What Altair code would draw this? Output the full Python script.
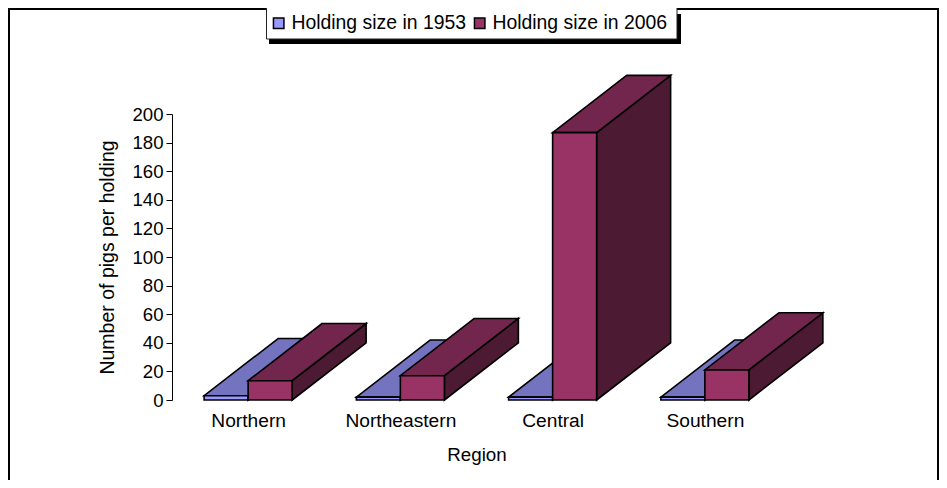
import json
import altair as alt
import pandas as pd

regions = ["Northern", "Northeastern", "Central", "Southern"]
size_1953 = [3, 2, 2, 2]
size_2006 = [13.5, 17, 187, 21]
series_names = ["Holding size in 1953", "Holding size in 2006"]

BAR_W = 0.289   # bar width, in category units
DEPTH_X = 0.486 # 3D depth, in category units
DEPTH_Y = 40    # 3D depth, in value units
FONT = "Liberation Sans"

front_rows, side_rows, top_rows = [], [], []
for s, (name, vals) in enumerate(zip(series_names, [size_1953, size_2006])):
    for i, v in enumerate(vals):
        xl = i - BAR_W + s * BAR_W
        xr = xl + BAR_W
        key = f"{s}-{i}"
        front_rows.append(dict(series=name, s=s, xl=xl, xr=xr, y0=0, v=v))
        side_rows += [
            dict(key=key, s=s, x=xr, lo=0, hi=v),
            dict(key=key, s=s, x=xr + DEPTH_X, lo=DEPTH_Y, hi=v + DEPTH_Y),
        ]
        top_rows += [
            dict(key=key, s=s, y=v, a=xl, b=xr),
            dict(key=key, s=s, y=v + DEPTH_Y, a=xl + DEPTH_X, b=xr + DEPTH_X),
        ]
front = pd.DataFrame(front_rows)
side = pd.DataFrame(side_rows)
top = pd.DataFrame(top_rows)

x_scale = alt.Scale(domain=[-0.5, 3.5], nice=False, zero=False)
y_scale = alt.Scale(domain=[0, 200], nice=False)
SW = 1.6

label_expr = json.dumps(regions) + "[datum.value]"
x_axis = alt.Axis(
    values=[0, 1, 2, 3], labelExpr=label_expr, title="Region",
    domain=False, ticks=False, grid=False, labelPadding=11, titlePadding=15,
    labelFontSize=19.2, titleFontSize=18.8, labelFont=FONT, titleFont=FONT,
    labelColor="black", titleColor="black", titleFontWeight="normal",
)
y_axis = alt.Axis(
    values=list(range(0, 201, 20)), title="Number of pigs per holding",
    grid=False, domainColor="black", tickColor="black", tickSize=6,
    labelPadding=3, titlePadding=14,
    labelFontSize=18.6, titleFontSize=19.5, labelFont=FONT, titleFont=FONT,
    labelColor="black", titleColor="black", titleFontWeight="normal",
)


def side_layer(s, colour):
    return alt.Chart(side[side.s == s]).mark_area(
        orient="vertical", fill=colour, stroke="black", strokeWidth=SW
    ).encode(
        x=alt.X("x:Q", scale=x_scale, axis=x_axis),
        y=alt.Y("lo:Q", scale=y_scale, axis=y_axis),
        y2="hi:Q",
        detail="key:N",
    )


def top_layer(s, colour):
    return alt.Chart(top[top.s == s]).mark_area(
        orient="horizontal", fill=colour, stroke="black", strokeWidth=SW
    ).encode(
        y=alt.Y("y:Q", scale=y_scale, axis=y_axis),
        x=alt.X("a:Q", scale=x_scale, axis=x_axis),
        x2="b:Q",
        detail="key:N",
    )


front_layer = alt.Chart(front).mark_rect(stroke="black", strokeWidth=SW).encode(
    x=alt.X("xl:Q", scale=x_scale, axis=x_axis),
    x2="xr:Q",
    y=alt.Y("y0:Q", scale=y_scale, axis=y_axis),
    y2="v:Q",
    color=alt.Color("series:N", scale=alt.Scale(domain=series_names, range=["#9999FF", "#993366"]),
                    legend=alt.Legend(
                        title=None, orient="none", legendX=97, legendY=-101, direction="horizontal",
                        columns=2, columnPadding=3, padding=0, symbolType="square", symbolSize=110,
                        symbolStrokeColor="black", symbolStrokeWidth=1.5, symbolOpacity=1,
                        labelFont=FONT, labelFontSize=19.4, labelColor="black", labelOffset=3,
                        labelLimit=300,
                    )),
)

anchor = pd.DataFrame({"a": [0]})
frame = alt.Chart(anchor).mark_rect(fill="transparent", stroke="black", strokeWidth=2).encode(
    x=alt.value(-163), x2=alt.value(766), y=alt.value(-105), y2=alt.value(400)
)
shadow = alt.Chart(anchor).mark_rect(fill="black").encode(
    x=alt.value(97), x2=alt.value(509), y=alt.value(-100), y2=alt.value(-70)
)
legend_box = alt.Chart(anchor).mark_rect(fill="white", stroke="#222222", strokeWidth=1).encode(
    x=alt.value(94.5), x2=alt.value(505), y=alt.value(-109), y2=alt.value(-75)
)

chart = alt.layer(
    frame, shadow, legend_box,
    side_layer(0, "#4D4D80"), top_layer(0, "#7373BF"),
    side_layer(1, "#4D1A33"), top_layer(1, "#73264D"),
    front_layer,
).resolve_scale(x="shared", y="shared").properties(
    width=609, height=286, background="white",
    padding={"left": 164, "top": 106, "right": 158, "bottom": 80},
    autosize=alt.AutoSizeParams(type="none"),
).configure_view(stroke=None)

chart.save("out.html", embed_options={"renderer": "svg", "actions": False})
